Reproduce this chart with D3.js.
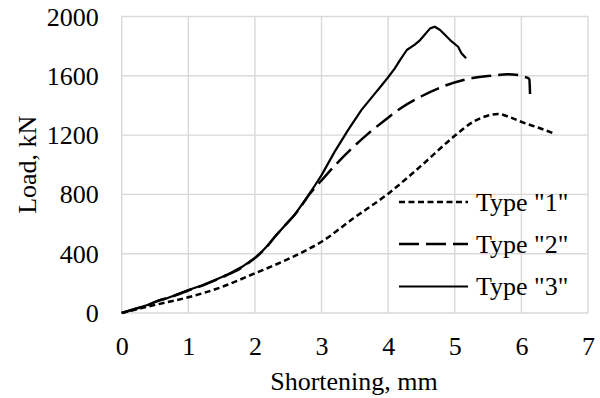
<!DOCTYPE html>
<html><head><meta charset="utf-8">
<script src="https://cdn.jsdelivr.net/npm/d3@7"></script>
<style>body{margin:0;background:#fff}svg{display:block}text{font-family:"Liberation Serif","Times New Roman",serif;fill:#000}</style>
</head><body>
<svg id="c" width="600" height="398"></svg>
<script>
const xTicks = [0,1,2,3,4,5,6,7];
const yTicks = [0,400,800,1200,1600,2000];
const seriesNames = ['Type "1"', 'Type "2"', 'Type "3"'];

const type1X = [0,0.3,0.65,1.0,1.5,2.0,2.3,2.73,3.0,3.48,4.0,4.48,5.0,5.28,5.48,5.65,5.83,6.03,6.28,6.51];
const type1Y = [0,33,70,106,175,268,324,414,481,639,805,987,1195,1291,1329,1342,1320,1284,1246,1207];

const type2X = [0,0.2,0.4,0.55,0.65,0.8,1.0,1.2,1.4,1.6,1.8,1.9,2.0,2.1,2.2,2.3,2.45,2.6,2.75,2.8,2.93,3.0,3.2,3.45,3.7,3.95,4.2,4.5,4.8,5.13,5.5,5.8,5.95,6.05,6.1,6.12,6.13];
const type2Y = [0,27,55,82,96,118,152,183,220,260,306,338,370,410,458,514,590,664,757,790,860,895,995,1108,1210,1300,1385,1462,1524,1572,1598,1610,1605,1592,1585,1575,1477];

const type3X = [0,0.2,0.4,0.55,0.65,0.8,1.0,1.2,1.4,1.6,1.8,1.9,2.0,2.1,2.2,2.3,2.45,2.6,2.75,2.9,3.0,3.2,3.4,3.6,3.8,3.9,4.0,4.1,4.18,4.28,4.4,4.48,4.63,4.70,4.78,4.93,5.05,5.1,5.17];
const type3Y = [0,28,56,85,95,120,155,185,222,262,310,340,372,412,460,515,590,665,760,860,930,1090,1235,1370,1480,1535,1590,1650,1707,1774,1810,1841,1920,1931,1909,1841,1796,1752,1718];

const series = [
  {name: seriesNames[0], xs: type1X, ys: type1Y, dash: "6,3.5", w: 2.5, curve: d3.curveMonotoneX},
  {name: seriesNames[1], xs: type2X, ys: type2Y, dash: "20,7", w: 2.5, curve: d3.curveMonotoneX},
  {name: seriesNames[2], xs: type3X, ys: type3Y, dash: null, w: 2.2, curve: d3.curveLinear}
];

const svg = d3.select("#c");
const x = d3.scaleLinear().domain([0,7]).range([121.7,588]);
const y = d3.scaleLinear().domain([0,2000]).range([313,16.5]);
const FS = 26;

// gridlines
svg.append("g").selectAll("line").data(xTicks).join("line")
  .attr("x1",d=>x(d)).attr("x2",d=>x(d)).attr("y1",y(0)).attr("y2",y(2000))
  .attr("stroke","#d9d9d9").attr("stroke-width",1.4);
svg.append("g").selectAll("line").data(yTicks).join("line")
  .attr("x1",x(0)).attr("x2",x(7)).attr("y1",d=>y(d)).attr("y2",d=>y(d))
  .attr("stroke","#d9d9d9").attr("stroke-width",1.4);

// axes labels via d3 axes (no lines)
const xAxis = svg.append("g").attr("transform",`translate(0,${y(0)})`)
  .call(d3.axisBottom(x).tickValues(xTicks).tickSize(0).tickPadding(0).tickFormat(d3.format("d")));
xAxis.select(".domain").remove();
xAxis.selectAll("text").attr("font-size",FS).attr("font-family","Liberation Serif").attr("dy",null).attr("y",42);

const yAxis = svg.append("g").attr("transform",`translate(${x(0)},0)`)
  .call(d3.axisLeft(y).tickValues(yTicks).tickSize(0).tickPadding(0).tickFormat(d3.format("d")));
yAxis.select(".domain").remove();
yAxis.selectAll("text").attr("font-size",FS).attr("font-family","Liberation Serif").attr("x",-23).attr("dy","0.33em");

// titles
svg.append("text").attr("x",354).attr("y",390).attr("text-anchor","middle").attr("font-size",FS).text("Shortening, mm");
svg.append("text").attr("transform",`translate(36,${(y(0)+y(2000))/2}) rotate(-90)`).attr("text-anchor","middle").attr("font-size",FS).text("Load, kN");

// lines
series.forEach(s=>{
  const pts = s.xs.map((v,i)=>[v,s.ys[i]]);
  const line = d3.line().x(d=>x(d[0])).y(d=>y(d[1])).curve(s.curve);
  svg.append("path").datum(pts).attr("d", line)
    .attr("fill","none").attr("stroke","#000").attr("stroke-width",s.w)
    .attr("stroke-dasharray",s.dash).attr("stroke-linejoin","round");
});

// legend
const legY = [202,244,286.5];
series.forEach((s,i)=>{
  svg.append("line").attr("x1",399).attr("x2",468).attr("y1",legY[i]).attr("y2",legY[i])
    .attr("stroke","#000").attr("stroke-width",s.w).attr("stroke-dasharray",s.dash);
  svg.append("text").attr("x",476).attr("y",legY[i]).attr("dy","0.33em").attr("font-size",FS).text(s.name);
});
</script>
</body></html>
